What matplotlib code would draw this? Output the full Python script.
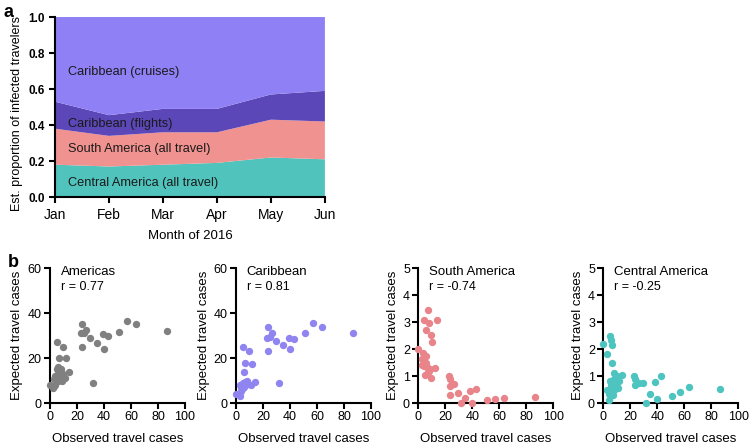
import matplotlib
matplotlib.use("Agg")
import matplotlib.pyplot as plt

plt.rcParams['font.family'] = ['Liberation Sans', 'DejaVu Sans']

# panel a: stacked proportions per month
months = ["Jan", "Feb", "Mar", "Apr", "May", "Jun"]
central = [0.18, 0.17, 0.18, 0.19, 0.22, 0.21]
south = [0.20, 0.17, 0.18, 0.17, 0.21, 0.21]
flights = [0.15, 0.115, 0.13, 0.13, 0.14, 0.17]
cruises = [0.47, 0.545, 0.51, 0.51, 0.43, 0.41]

# panel b: observed vs expected travel cases
amer_obs = [0, 2, 3, 3, 4, 5, 5, 5, 6, 6, 7, 7, 7, 8, 9, 10, 10, 11, 12, 14, 6, 8, 4, 9,
            23, 24, 24, 25, 27, 30, 32, 35, 39, 40, 43, 51, 57, 64, 87]
amer_exp = [8, 6.5, 7.5, 10.5, 8, 27, 11, 15, 16, 13, 14, 12, 20, 11, 12, 25, 13, 11, 20, 14, 10, 15, 12, 10,
            31, 35, 25, 31, 32.5, 29, 9, 26.5, 30.5, 24, 30, 31.5, 36.5, 35, 32]

carib_obs = [0, 3, 3, 4, 5, 5, 6, 6, 7, 7, 8, 9, 10, 11, 12, 14, 5, 6, 4, 8, 2,
             23, 24, 24, 25, 27, 30, 32, 35, 39, 40, 43, 51, 57, 64, 87]
carib_exp = [4, 3, 8, 5.5, 25, 9, 14, 7, 18, 9.5, 10, 8.5, 23, 8, 17.5, 9.5, 6.5, 8, 7, 9, 4,
             29, 34, 23, 29.5, 31, 27.5, 9, 26, 29, 24, 28.5, 31, 35.5, 34, 31]

south_obs = [0, 7, 4.5, 8, 13.5, 5.5, 9.5, 10.5, 3.5, 5.5, 2.5, 4.5, 2.5, 4.5, 6, 6.5, 5, 8, 8.5, 12, 9.5, 7,
             22.7, 23.5, 23.5, 26.4, 23.5, 29.6, 31.6, 34.8, 38.3, 42.7, 39.5, 50.6, 56.8, 63.7, 86.7]
south_exp = [2.0, 3.45, 3.07, 2.98, 3.08, 2.72, 2.53, 2.25, 1.84, 1.73, 1.64, 1.64, 1.40, 1.37, 1.5, 1.35, 1.05, 1.2, 1.25, 1.3, 0.93, 1.15,
             0.99, 0.9, 0.64, 0.70, 0.30, 0.36, 0.0, 0.19, 0.43, 0.52, 0.0, 0.12, 0.15, 0.2, 0.23]

cent_obs = [0, 5, 5.7, 6.7, 3, 6.7, 8, 10, 13.6, 3, 4, 5, 5, 6, 7, 8, 9, 10, 11, 12, 4, 6, 8, 7,
            22.7, 23.5, 23.5, 26.4, 29.6, 38.3, 42.7, 34.6, 31.6, 39.8, 50.6, 56.8, 63.7, 86.7]
cent_exp = [2.2, 2.5, 2.35, 2.16, 1.8, 1.5, 1.1, 1.0, 1.03, 0.5, 0.1, 0.8, 0.4, 0.55, 0.75, 0.5, 0.7, 0.6, 0.55, 0.8, 0.35, 0.65, 0.9, 0.3,
            1.0, 0.9, 0.68, 0.76, 0.74, 0.78, 0.99, 0.35, 0.0, 0.15, 0.25, 0.42, 0.59, 0.53]

fig = plt.figure(figsize=(7.54, 4.48), dpi=100)

# ---- panel a
ax = fig.add_axes([0.0729, 0.560, 0.358, 0.402])
x = range(len(months))
ax.stackplot(x, central, south, flights, cruises,
             colors=["#4fc3bc", "#f0928f", "#5b47b8", "#8f80f5"], linewidth=0)
ax.set_xlim(0, 5)
ax.set_ylim(0, 1.0)
ax.set_xticks(list(x))
ax.set_xticklabels(months, fontsize=10)
ax.set_yticks([0, 0.2, 0.4, 0.6, 0.8, 1.0])
ax.set_yticklabels(["0.0", "0.2", "0.4", "0.6", "0.8", "1.0"], fontsize=8.5, fontweight="bold")
ax.set_xlabel("Month of 2016", fontsize=9.5, labelpad=6)
ax.set_ylabel("Est. proportion of infected travelers", fontsize=9)
ax.yaxis.set_label_coords(-0.118, 0.465)
for s in ["top", "right"]:
    ax.spines[s].set_visible(False)
for s in ["left", "bottom"]:
    ax.spines[s].set_linewidth(1.5)
ax.tick_params(width=1.5, length=4)
tk = dict(transform=ax.transAxes, fontsize=9.2, va="center", ha="left", color="#1a1a1a")
ax.text(0.048, 0.694, "Caribbean (cruises)", **tk)
ax.text(0.048, 0.405, "Caribbean (flights)", **tk)
ax.text(0.048, 0.267, "South America (all travel)", **tk)
ax.text(0.048, 0.078, "Central America (all travel)", **tk)
fig.text(0.004, 0.972, "a", fontsize=13, fontweight="bold", va="center")

# ---- panel b
panels = [
    (0.0663, amer_obs, amer_exp, "#808080", "Americas", "r = 0.77", 60, [0, 20, 40, 60]),
    (0.3130, carib_obs, carib_exp, "#8f84f0", "Caribbean", "r = 0.81", 60, [0, 20, 40, 60]),
    (0.5548, south_obs, south_exp, "#e8848a", "South America", "r = -0.74", 5, [0, 1, 2, 3, 4, 5]),
    (0.8001, cent_obs, cent_exp, "#4dc4c0", "Central America", "r = -0.25", 5, [0, 1, 2, 3, 4, 5]),
]
for left, xo, ye, col, name, rtxt, ymax, yt in panels:
    bx = fig.add_axes([left, 0.1004, 0.179, 0.301])
    bx.scatter(xo, ye, s=28, color=col, linewidths=0, clip_on=False, zorder=3)
    bx.set_xlim(0, 100)
    bx.set_ylim(0, ymax)
    bx.set_xticks([0, 20, 40, 60, 80, 100])
    bx.set_yticks(yt)
    bx.tick_params(labelsize=9, width=1.5, length=4, pad=2)
    for s in ["top", "right"]:
        bx.spines[s].set_visible(False)
    for s in ["left", "bottom"]:
        bx.spines[s].set_linewidth(1.5)
    bx.set_xlabel("Observed travel cases", fontsize=9.5, labelpad=7)
    bx.set_ylabel("Expected travel cases", fontsize=9.5, labelpad=3)
    bx.text(0.08, 0.975, name, transform=bx.transAxes, fontsize=9.5, va="center")
    bx.text(0.08, 0.86, rtxt, transform=bx.transAxes, fontsize=9, va="center")
fig.text(0.010, 0.415, "b", fontsize=13, fontweight="bold", va="center")

fig.savefig("out.png", dpi=100)
